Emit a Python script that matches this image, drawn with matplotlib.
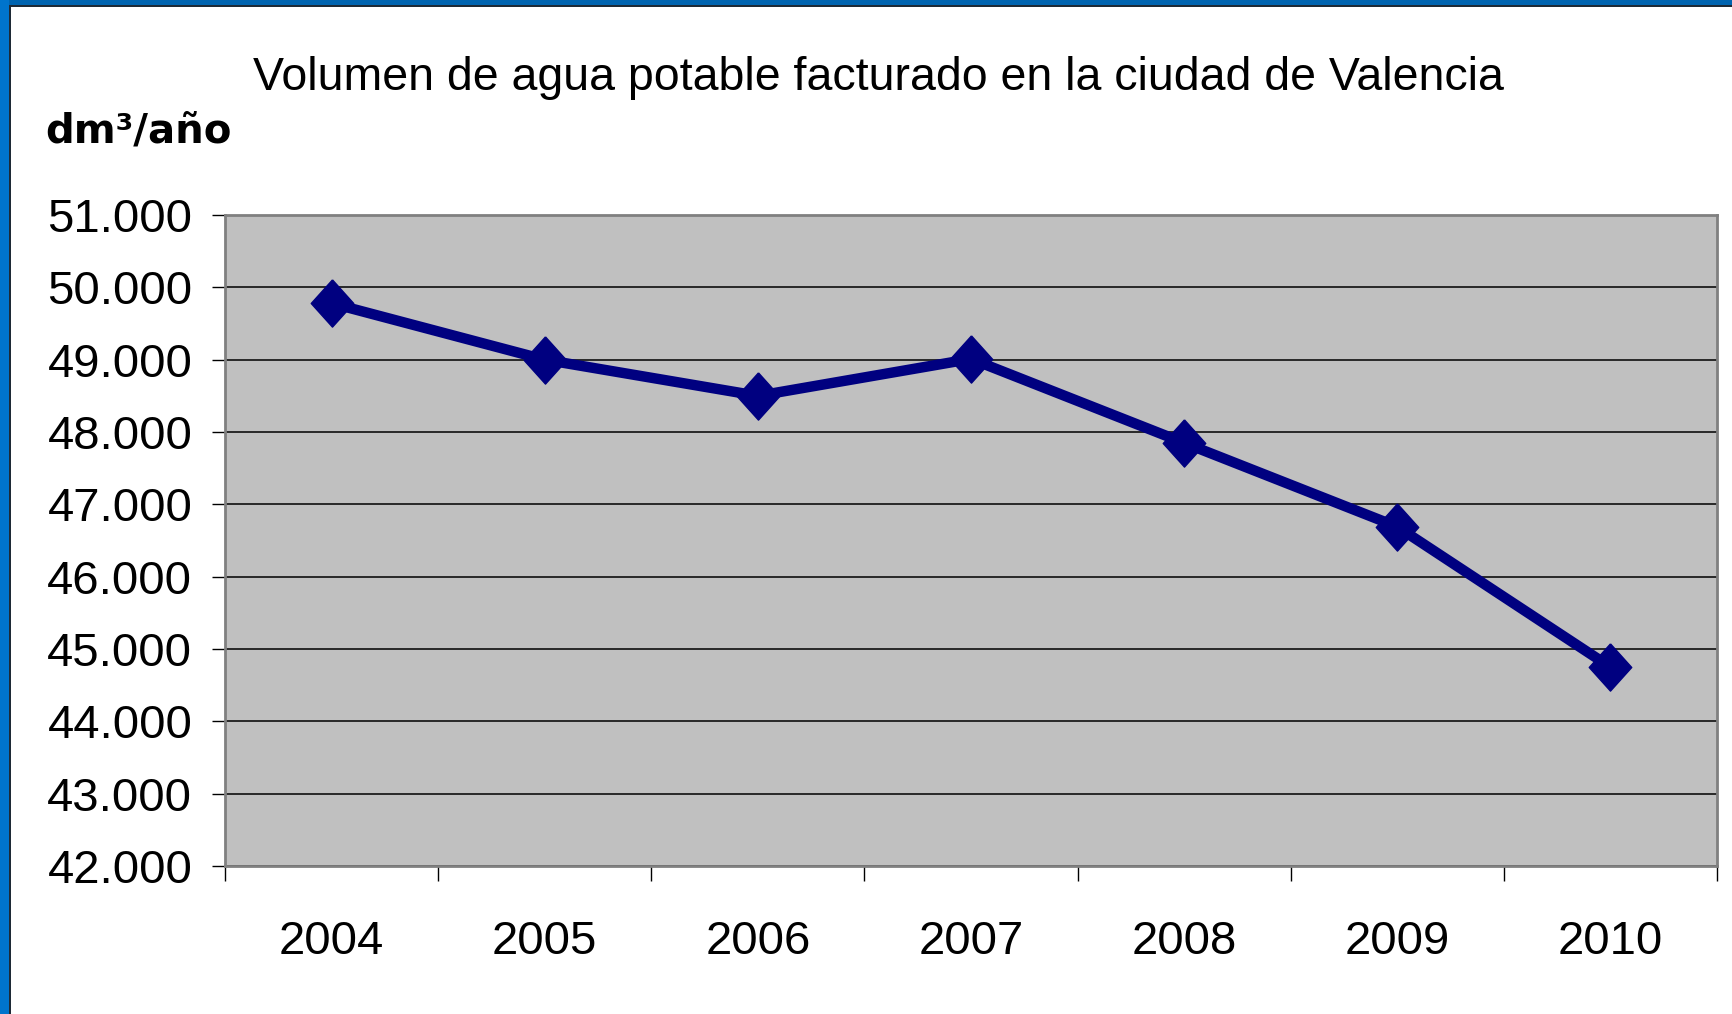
import numpy as np
import matplotlib
matplotlib.use("Agg")
import matplotlib.pyplot as plt
from matplotlib.patches import Rectangle

# Data
years = ["2004", "2005", "2006", "2007", "2008", "2009", "2010"]
volume = [49780, 49000, 48500, 49010, 47850, 46690, 44750]
yticks = [42000, 43000, 44000, 45000, 46000, 47000, 48000, 49000, 50000, 51000]
title = "Volumen de agua potable facturado en la ciudad de Valencia"
unit_label = "dm³/año"

W, H = 1733, 1014
fig = plt.figure(figsize=(W / 100, H / 100), dpi=100)
fig.patch.set_facecolor("white")

# blue slide frame (top and left edges)
fig.patches.append(Rectangle((0, 1 - 5 / H), 1, 5 / H, transform=fig.transFigure,
                             facecolor="#0064B0", edgecolor="none", zorder=0))
fig.patches.append(Rectangle((0, 0), 9 / W, 1, transform=fig.transFigure,
                             facecolor="#0074CC", edgecolor="none", zorder=0))
fig.patches.append(Rectangle((9 / W, 0), 1.5 / W, 1 - 5 / H, transform=fig.transFigure,
                             facecolor="#1E2A36", edgecolor="none", zorder=0))
fig.patches.append(Rectangle((9 / W, 1 - 6.5 / H), 1 - 9 / W, 1.5 / H, transform=fig.transFigure,
                             facecolor="#1E2A36", edgecolor="none", zorder=0))

left, right, top, bottom = 225, 1717, 215, 866
ax = fig.add_axes([left / W, 1 - bottom / H, (right - left) / W, (bottom - top) / H])
ax.set_facecolor("#C0C0C0")

x = np.arange(len(years))
diamond = [(0, 1), (0.9, 0), (0, -1), (-0.9, 0), (0, 1)]
ax.plot(x, volume, color="#000080", linewidth=7.5, marker=diamond,
        markersize=34, markeredgecolor="#000080", zorder=3)

ax.set_xlim(-0.5, len(years) - 0.5)
ax.set_ylim(yticks[0], yticks[-1])

ax.set_yticks(yticks)
ax.set_yticklabels([f"{v:,}".replace(",", ".") for v in yticks],
                   fontfamily="Liberation Sans", fontsize=34)
ax.yaxis.grid(True, color="black", linewidth=1.1)
ax.set_axisbelow(True)

ax.set_xticks(np.arange(-0.5, len(years)))
ax.set_xticklabels([])
ax.set_xticks(x, minor=True)
ax.set_xticklabels(years, minor=True, fontfamily="Liberation Sans", fontsize=34)

ax.tick_params(axis="y", which="major", length=9.5, width=1, color="black", pad=14)
ax.tick_params(axis="x", which="major", length=11, width=1, color="black")
ax.tick_params(axis="x", which="minor", length=0, pad=39)

for s in ax.spines.values():
    s.set_color("#808080")
    s.set_linewidth(2)

fig.text(878 / W, 1 - 90 / H, title, ha="center", va="baseline",
         fontfamily="Liberation Sans", fontsize=33.5)
fig.text(45 / W, 1 - 143 / H, unit_label, ha="left", va="baseline",
         fontfamily="DejaVu Sans", fontweight="bold", fontsize=29)

fig.savefig("out.png", dpi=100)
